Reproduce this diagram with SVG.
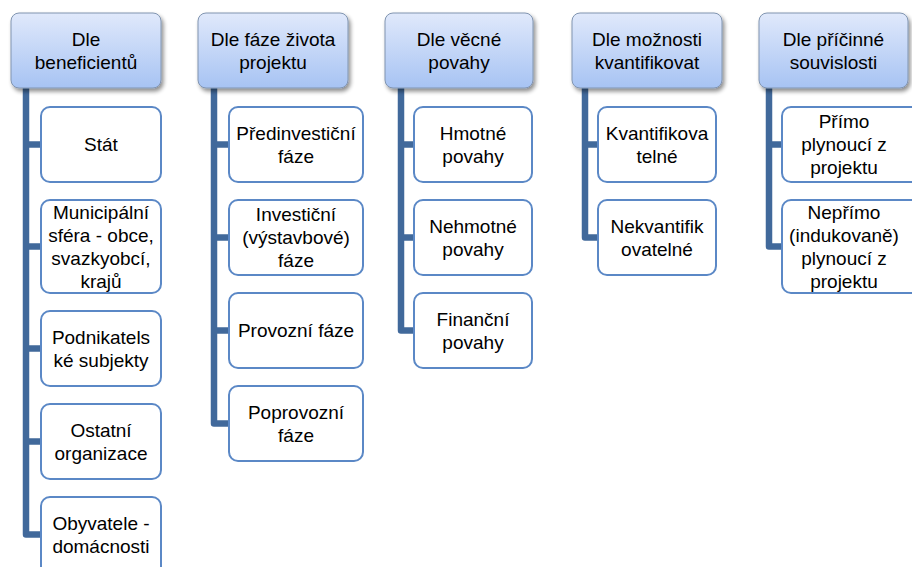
<svg xmlns="http://www.w3.org/2000/svg" width="912" height="567" viewBox="0 0 912 567">
<defs>
<linearGradient id="g" x1="0" y1="0" x2="0" y2="1">
<stop offset="0" stop-color="#e0e9fb"/>
<stop offset="1" stop-color="#a7c3f3"/>
</linearGradient>
<filter id="sh" x="-10%" y="-10%" width="125%" height="135%">
<feGaussianBlur in="SourceAlpha" stdDeviation="2"/>
<feOffset dx="1.5" dy="2.5" result="b"/>
<feComponentTransfer><feFuncA type="linear" slope="0.45"/></feComponentTransfer>
<feMerge><feMergeNode/><feMergeNode in="SourceGraphic"/></feMerge>
</filter>
</defs>
<style>
.top{fill:url(#g);stroke:#8094b0;stroke-width:1;filter:url(#sh)}
.ch{fill:#ffffff;stroke:#5b88c6;stroke-width:2}
.t{font-family:"Liberation Sans",Arial,sans-serif;font-size:19px;font-weight:400;fill:#000000;text-anchor:middle}
.c{fill:none;stroke:#41699b;stroke-width:6.5;stroke-linejoin:round;stroke-linecap:butt}
</style>
<rect width="912" height="567" fill="#ffffff"/>

<g id="connectors">
<path class="c" d="M26 88 V534.5 H41 M26 144.5 H41 M26 246.5 H41 M26 348.5 H41 M26 441.5 H41"/>
<path class="c" d="M214 88 V423.5 H229 M214 144.5 H229 M214 237.5 H229 M214 330.5 H229"/>
<path class="c" d="M401 88 V330.5 H414 M401 144.5 H414 M401 237.5 H414"/>
<path class="c" d="M585 88 V237.5 H598 M585 144.5 H598"/>
<path class="c" d="M769 88 V246.5 H782 M769 144.5 H782"/>
</g>

<g id="n1"><rect class="top" x="11" y="13" width="150" height="75" rx="8"/>
<text class="t" x="86" y="45.5">Dle</text><text class="t" x="86" y="68.5">beneficientů</text></g>
<g id="n2"><rect class="top" x="198" y="13" width="150" height="75" rx="8"/>
<text class="t" x="273" y="45.5">Dle fáze života</text><text class="t" x="273" y="68.5">projektu</text></g>
<g id="n3"><rect class="top" x="385" y="13" width="148" height="75" rx="8"/>
<text class="t" x="459" y="45.5">Dle věcné</text><text class="t" x="459" y="68.5">povahy</text></g>
<g id="n4"><rect class="top" x="572" y="13" width="150" height="75" rx="8"/>
<text class="t" x="647" y="45.5">Dle možnosti</text><text class="t" x="647" y="68.5">kvantifikovat</text></g>
<g id="n5"><rect class="top" x="759" y="13" width="149" height="75" rx="8"/>
<text class="t" x="833.5" y="45.5">Dle příčinné</text><text class="t" x="833.5" y="68.5">souvislosti</text></g>

<g id="c1a"><rect class="ch" x="41" y="107" width="120" height="75" rx="9"/>
<text class="t" x="101" y="151">Stát</text></g>
<g id="c1b"><rect class="ch" x="41" y="200" width="120" height="93" rx="9"/>
<text class="t" x="101" y="218.5">Municipální</text><text class="t" x="101" y="241.5">sféra - obce,</text><text class="t" x="101" y="264.5">svazkyobcí,</text><text class="t" x="101" y="287.5">krajů</text></g>
<g id="c1c"><rect class="ch" x="41" y="311" width="120" height="75" rx="9"/>
<text class="t" x="101" y="343.5">Podnikatels</text><text class="t" x="101" y="366.5">ké subjekty</text></g>
<g id="c1d"><rect class="ch" x="41" y="404" width="120" height="75" rx="9"/>
<text class="t" x="101" y="436.5">Ostatní</text><text class="t" x="101" y="459.5">organizace</text></g>
<g id="c1e"><rect class="ch" x="41" y="497" width="120" height="80" rx="9"/>
<text class="t" x="101" y="530">Obyvatele -</text><text class="t" x="101" y="553">domácnosti</text></g>

<g id="c2a"><rect class="ch" x="229" y="107" width="134" height="75" rx="9"/>
<text class="t" x="296" y="139.5">Předinvestiční</text><text class="t" x="296" y="162.5">fáze</text></g>
<g id="c2b"><rect class="ch" x="229" y="200" width="134" height="75" rx="9"/>
<text class="t" x="296" y="221">Investiční</text><text class="t" x="296" y="244">(výstavbové)</text><text class="t" x="296" y="267">fáze</text></g>
<g id="c2c"><rect class="ch" x="229" y="293" width="134" height="75" rx="9"/>
<text class="t" x="296" y="337">Provozní fáze</text></g>
<g id="c2d"><rect class="ch" x="229" y="386" width="134" height="75" rx="9"/>
<text class="t" x="296" y="418.5">Poprovozní</text><text class="t" x="296" y="441.5">fáze</text></g>

<g id="c3a"><rect class="ch" x="414" y="107" width="118" height="75" rx="9"/>
<text class="t" x="473" y="139.5">Hmotné</text><text class="t" x="473" y="162.5">povahy</text></g>
<g id="c3b"><rect class="ch" x="414" y="200" width="118" height="75" rx="9"/>
<text class="t" x="473" y="232.5">Nehmotné</text><text class="t" x="473" y="255.5">povahy</text></g>
<g id="c3c"><rect class="ch" x="414" y="293" width="118" height="75" rx="9"/>
<text class="t" x="473" y="325.5">Finanční</text><text class="t" x="473" y="348.5">povahy</text></g>

<g id="c4a"><rect class="ch" x="598" y="107" width="118" height="75" rx="9"/>
<text class="t" x="657" y="139.5">Kvantifikova</text><text class="t" x="657" y="162.5">telné</text></g>
<g id="c4b"><rect class="ch" x="598" y="200" width="118" height="75" rx="9"/>
<text class="t" x="657" y="232.5">Nekvantifik</text><text class="t" x="657" y="255.5">ovatelné</text></g>

<g id="c5a"><rect class="ch" x="782" y="107" width="140" height="75" rx="9"/>
<text class="t" x="844" y="128">Přímo</text><text class="t" x="844" y="151">plynoucí z</text><text class="t" x="844" y="174">projektu</text></g>
<g id="c5b"><rect class="ch" x="782" y="200" width="140" height="93" rx="9"/>
<text class="t" x="844" y="218.5">Nepřímo</text><text class="t" x="844" y="241.5">(indukovaně)</text><text class="t" x="844" y="264.5">plynoucí z</text><text class="t" x="844" y="287.5">projektu</text></g>
</svg>
